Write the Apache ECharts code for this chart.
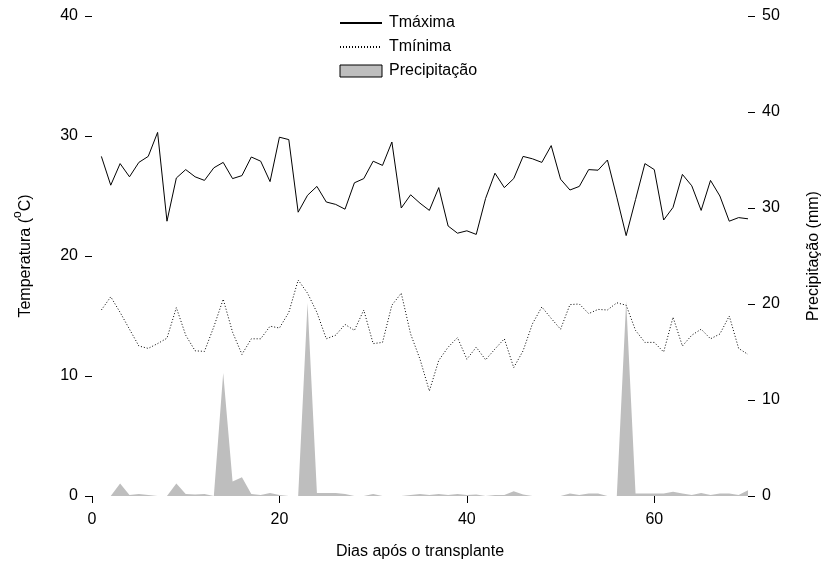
<!DOCTYPE html>
<html>
<head>
<meta charset="utf-8">
<script src="https://cdn.jsdelivr.net/npm/echarts@6/dist/echarts.min.js"></script>
<style>
html,body{margin:0;padding:0;background:#fff;}
#chart{width:830px;height:571px;}
</style>
</head>
<body>
<div id="chart"></div>
<script>
const days = [1,2,3,4,5,6,7,8,9,10,11,12,13,14,15,16,17,18,19,20,21,22,23,24,25,26,27,28,29,30,31,32,33,34,35,36,37,38,39,40,41,42,43,44,45,46,47,48,49,50,51,52,53,54,55,56,57,58,59,60,61,62,63,64,65,66,67,68,69,70];
const tmax = [28.3,25.9,27.7,26.6,27.8,28.3,30.3,22.9,26.5,27.2,26.6,26.3,27.35,27.8,26.45,26.7,28.25,27.9,26.2,29.9,29.7,23.65,25.06,25.8,24.5,24.3,23.9,26.1,26.45,27.9,27.55,29.5,24.0,25.1,24.4,23.8,25.7,22.5,21.9,22.1,21.8,24.8,26.9,25.7,26.45,28.3,28.1,27.8,29.2,26.4,25.5,25.8,27.2,27.15,28.0,24.9,21.7,24.7,27.7,27.2,23.0,24.05,26.8,25.85,23.8,26.3,25.0,22.9,23.2,23.1];
const tmin = [15.5,16.6,15.3,13.9,12.5,12.3,12.7,13.15,15.7,13.4,12.1,12.05,14.1,16.4,13.65,11.8,13.1,13.1,14.15,14.0,15.3,18.0,16.9,15.3,13.1,13.4,14.3,13.8,15.5,12.7,12.8,15.9,16.9,13.5,11.4,8.75,11.3,12.4,13.2,11.4,12.4,11.35,12.25,13.1,10.7,12.1,14.35,15.75,14.8,13.9,15.95,16.0,15.2,15.55,15.5,16.1,15.9,13.8,12.8,12.8,12.0,14.9,12.5,13.4,13.9,13.1,13.5,15.0,12.3,11.8];
const precip = [0,0,1.3,0.1,0.2,0.1,0,0,1.3,0.2,0.15,0.2,0,12.8,1.5,1.95,0.2,0.1,0.3,0.1,0,0,20.1,0.3,0.3,0.3,0.2,0,0,0.2,0,0,0,0.1,0.2,0.1,0.2,0.1,0.2,0.1,0.15,0,0.1,0.1,0.5,0.15,0,0,0,0,0.25,0.1,0.25,0.25,0,0,20.3,0.25,0.25,0.25,0.25,0.45,0.25,0.1,0.3,0.1,0.25,0.25,0.1,0.6];
const xTicks = [0,20,40,60];
const tempTicks = [0,10,20,30,40];
const precTicks = [0,10,20,30,40,50];

const pair = (vals) => days.map((d,i) => [d, vals[i]]);
const font = "'Liberation Sans', Arial, sans-serif";
const chart = echarts.init(document.getElementById('chart'), null, {renderer:'canvas'});
const axisCommon = {
  axisLine:{show:false},
  splitLine:{show:false},
  axisTick:{show:true, length:7, inside:false, lineStyle:{color:'#000', width:1}},
  axisLabel:{color:'#000', fontSize:16, fontFamily:font, margin:8},
  nameTextStyle:{color:'#000', fontSize:16, fontFamily:font}
};
const noSymbol = {color:'rgba(0,0,0,0)', borderColor:'rgba(0,0,0,0)', borderWidth:0};
chart.setOption({
  animation:false,
  backgroundColor:'#fff',
  grid:{left:92, right:78, top:16, bottom:75, containLabel:false},
  legend:{
    orient:'vertical', left:334, top:10, itemWidth:42, itemHeight:12, itemGap:8,
    textStyle:{color:'#000', fontSize:16, fontFamily:font, padding:[0,0,0,2]},
    data:[
      {name:'Tmáxima', itemStyle:noSymbol},
      {name:'Tmínima', itemStyle:noSymbol},
      {name:'Precipitação', icon:'rect', itemStyle:{color:'#bebebe', borderColor:'#000', borderWidth:1}}
    ]
  },
  xAxis:Object.assign({}, axisCommon, {
    type:'value', min:0, max:70, interval:20,
    name:'Dias após o transplante', nameLocation:'middle', nameGap:48,
    axisTick:Object.assign({}, axisCommon.axisTick, {customValues:xTicks}),
    axisLabel:Object.assign({}, axisCommon.axisLabel, {customValues:xTicks, margin:16})
  }),
  yAxis:[
    Object.assign({}, axisCommon, {
      type:'value', min:0, max:40, interval:10, position:'left',
      axisTick:Object.assign({}, axisCommon.axisTick, {customValues:tempTicks}),
      axisLabel:Object.assign({}, axisCommon.axisLabel, {customValues:tempTicks, margin:14}),
      name:'{a|Temperatura (}{s|o}{a|C)}', nameLocation:'middle', nameGap:58, nameRotate:90,
      nameTextStyle:{color:'#000', fontFamily:font, rich:{
        a:{fontSize:16, fontFamily:font, color:'#000', lineHeight:22, verticalAlign:'bottom'},
        s:{fontSize:12, fontFamily:font, color:'#000', lineHeight:22, verticalAlign:'top'}
      }}
    }),
    Object.assign({}, axisCommon, {
      type:'value', min:0, max:50, interval:10, position:'right',
      axisTick:Object.assign({}, axisCommon.axisTick, {customValues:precTicks}),
      axisLabel:Object.assign({}, axisCommon.axisLabel, {customValues:precTicks, margin:14}),
      name:'Precipitação (mm)', nameLocation:'middle', nameGap:58, nameRotate:90
    })
  ],
  series:[
    {name:'Precipitação', type:'line', yAxisIndex:1, data:pair(precip), symbol:'none',
     lineStyle:{width:0, color:'#bebebe'}, itemStyle:{color:'#bebebe'},
     areaStyle:{color:'#bebebe', opacity:1}, z:1},
    {name:'Tmáxima', type:'line', yAxisIndex:0, data:pair(tmax), symbol:'none',
     lineStyle:{width:1, color:'#000', type:'solid'}, itemStyle:{color:'#000'}, z:3},
    {name:'Tmínima', type:'line', yAxisIndex:0, data:pair(tmin), symbol:'none',
     lineStyle:{width:1, color:'#000', type:[1,2]}, itemStyle:{color:'#000'}, z:3}
  ]
});
</script>
</body>
</html>
